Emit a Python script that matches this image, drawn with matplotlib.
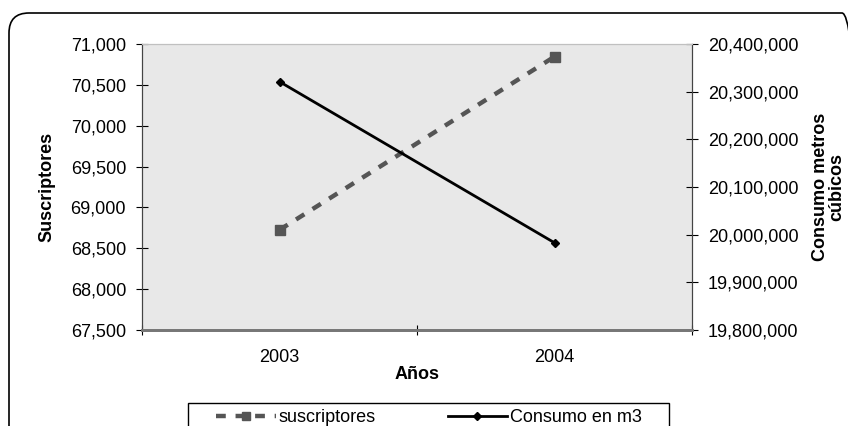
import matplotlib
matplotlib.use("Agg")
import matplotlib.pyplot as plt
from matplotlib.patches import FancyBboxPatch, Rectangle
from matplotlib.ticker import FuncFormatter

plt.rcParams['font.family'] = ['Liberation Sans', 'DejaVu Sans']

years = ["2003", "2004"]
suscriptores = [68725, 70845]
consumo = [20321000, 19983000]

W, H = 848, 426
FS = 13
fig = plt.figure(figsize=(W / 100, H / 100), dpi=100)

# outer rounded frame (inches, so the corners are circular)
frame = FancyBboxPatch((0.09, -1.0), 8.62 - 0.09, (H - 13) / 100 + 1.0,
                       boxstyle="round,pad=0,rounding_size=0.2",
                       transform=fig.dpi_scale_trans, fill=False,
                       edgecolor="black", linewidth=1.2, zorder=0)
fig.patches.append(frame)

# legend box
legbox = Rectangle((1.88, -0.5), 6.69 - 1.88, (H - 403) / 100 + 0.5,
                   transform=fig.dpi_scale_trans, fill=False,
                   edgecolor="black", linewidth=1.0, zorder=0)
fig.patches.append(legbox)

L, R, T, B = 142, 692, 44, 330
ax = fig.add_axes([L / W, 1 - B / H, (R - L) / W, (B - T) / H])
ax2 = ax.twinx()
ax.set_facecolor("#e8e8e8")

xpos = [0.5, 1.5]
ln1, = ax.plot(xpos, suscriptores, color="#555555", linewidth=3.2,
               dashes=(2.2, 2.2), marker="s", markersize=7, label="suscriptores")
ln2, = ax2.plot(xpos, consumo, color="black", linewidth=2,
                marker="D", markersize=4, label="Consumo en m3")

ax.set_xlim(0, 2)
ax.set_xticks([0, 1, 2])
ax.set_xticklabels([])
ax.set_xticks(xpos, minor=True)
ax.set_xticklabels(years, minor=True)
ax.tick_params(axis="x", which="minor", length=0, pad=14, labelsize=FS)
ax.tick_params(axis="x", which="major", length=7, direction="inout", color="black")

ax.set_ylim(67500, 71000)
ax.set_yticks(range(67500, 71001, 500))
ax2.set_ylim(19800000, 20400000)
ax2.set_yticks(range(19800000, 20400001, 100000))
fmt = FuncFormatter(lambda v, p: f"{int(v):,}")
ax.yaxis.set_major_formatter(fmt)
ax2.yaxis.set_major_formatter(fmt)
ax.tick_params(axis="y", direction="inout", length=9, labelsize=FS, pad=7)
ax2.tick_params(axis="y", direction="inout", length=9, labelsize=FS, pad=7)

for a in (ax, ax2):
    a.spines["top"].set_color("#c0c0c0")
    a.spines["bottom"].set_color("#777777")
    a.spines["bottom"].set_linewidth(2)
    a.spines["left"].set_color("#444444")
    a.spines["right"].set_color("#444444")

ax.set_xlabel("Años", fontweight="bold", fontsize=FS, labelpad=0)
ax.set_ylabel("Suscriptores", fontweight="bold", fontsize=FS, labelpad=11)
fig.text(829 / W, 1 - 187 / H, "Consumo metros\ncúbicos", rotation=90,
         ha="center", va="center", fontweight="bold", fontsize=FS,
         multialignment="center", linespacing=0.95)

leg = fig.legend([ln1, ln2], ["suscriptores", "Consumo en m3"], ncol=2,
                 loc="upper left", bbox_to_anchor=(216 / W, 1 - 409 / H),
                 frameon=False, fontsize=FS, handlelength=3.3,
                 columnspacing=4.0, borderpad=0, handletextpad=0.15,
                 markerscale=0.9, borderaxespad=0)

fig.savefig("out.png", dpi=100)
